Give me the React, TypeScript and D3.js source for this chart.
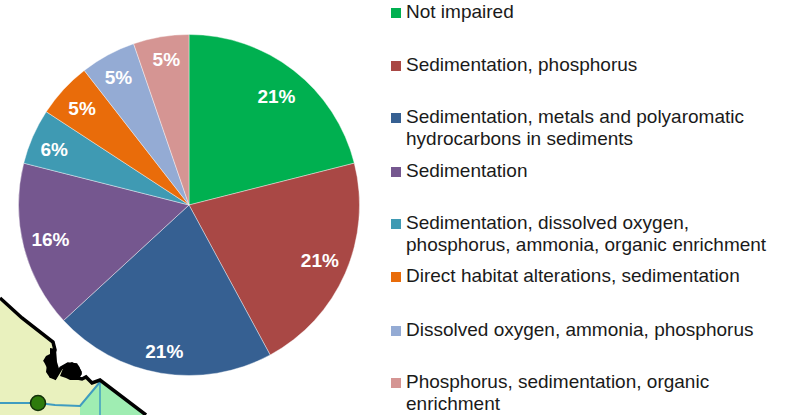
import React, { useEffect, useRef } from "react";
import * as d3 from "d3";

const categories = [
  "Not impaired",
  "Sedimentation, phosphorus",
  "Sedimentation, metals and polyaromatic|hydrocarbons in sediments",
  "Sedimentation",
  "Sedimentation, dissolved oxygen,|phosphorus, ammonia, organic enrichment",
  "Direct habitat alterations, sedimentation",
  "Dissolved oxygen, ammonia, phosphorus",
  "Phosphorus, sedimentation, organic|enrichment",
];
const counts = [4, 4, 4, 3, 1, 1, 1, 1];
const shareLabels = ["21%", "21%", "21%", "16%", "6%", "5%", "5%", "5%"];
const colors = ["#00B050", "#A94845", "#366092", "#75578F", "#3F9AB3", "#E96C0A", "#94ABD4", "#D59593"];
// first-line baseline of each legend entry
const legendBaselines = [18, 71, 123, 177, 229, 282, 336, 388];
// hand placed offsets, the labels don't sit on one radius in the original
const labelNudges: [number, number][] = [[-1, 5], [-1, -3], [-1, 4], [1, -1], [-3, 2], [-1, 1], [-2, -1], [1, -4]];

// bit of map showing behind the chart
const mapBorder: [number, number][] = [
  [0, 298], [22, 318], [53, 342], [55, 350], [52, 358], [46, 362], [49, 368], [51, 376], [55, 378], [61, 368],
  [68, 364], [76, 365], [80, 372], [77, 378], [82, 379], [86, 377], [92, 383], [100, 380], [146, 415],
];
const mapLand: [number, number][] = [...mapBorder, [0, 415]];
const mapGreen: [number, number][] = [[100, 381], [80, 405], [80, 415], [146, 415]];
const mapBlobs: [number, number][][] = [
  [[50, 348], [56, 349], [57, 362], [60, 372], [56, 379], [50, 378], [46, 372], [47, 364], [43, 361], [46, 356], [50, 354]],
  [[64, 366], [72, 362], [79, 366], [82, 374], [78, 380], [70, 380], [66, 378], [60, 376]],
];
const mapRiver: [number, number][] = [[0, 403], [38, 403], [55, 405], [80, 406], [100, 382]];
const mapRiver2: [number, number][] = [[100, 382], [100, 415]];

const App: React.FC = () => {
  const svgRef = useRef<SVGSVGElement | null>(null);

  useEffect(() => {
    if (!svgRef.current) return;
    const svg = d3.select(svgRef.current);
    svg.selectAll("*").remove();

    const line = d3.line();
    const map = svg.append("g");
    map.append("path").attr("d", line(mapLand)!).attr("fill", "#E9F1BE");
    map.append("path").attr("d", line(mapGreen)!).attr("fill", "#9FEDB2");
    map.append("path").attr("d", line(mapRiver)!).attr("fill", "none").attr("stroke", "#3F9CC0").attr("stroke-width", 2);
    map.append("path").attr("d", line(mapRiver2)!).attr("fill", "none").attr("stroke", "#3F9CC0").attr("stroke-width", 1.5);
    map.append("path").attr("d", line(mapBorder)!).attr("fill", "none").attr("stroke", "#000").attr("stroke-width", 3.5);
    map.selectAll("path.blob").data(mapBlobs).join("path").attr("class", "blob").attr("d", d => line(d)! + "Z").attr("fill", "#000");
    map.append("circle").attr("cx", 38).attr("cy", 403).attr("r", 7.5)
      .attr("fill", "#2E7B0C").attr("stroke", "#12300a").attr("stroke-width", 1.5);

    const radius = 170.5;
    const pie = d3.pie<number>().sort(null).value(d => d);
    const arc = d3.arc<d3.PieArcDatum<number>>().innerRadius(0).outerRadius(radius);
    const labelArc = d3.arc<d3.PieArcDatum<number>>().innerRadius(144).outerRadius(144);

    const chart = svg.append("g").attr("transform", "translate(189,205)");
    chart.selectAll("path")
      .data(pie(counts))
      .join("path")
      .attr("d", d => arc(d)!)
      .attr("fill", (_, i) => colors[i])
      .attr("stroke", "#fff")
      .attr("stroke-width", 0.4);
    chart.selectAll("text")
      .data(pie(counts))
      .join("text")
      .attr("transform", (d, i) => {
        const [x, y] = labelArc.centroid(d);
        return `translate(${x + labelNudges[i][0]},${y + labelNudges[i][1]})`;
      })
      .attr("text-anchor", "middle")
      .attr("dy", "0.36em")
      .attr("font-family", "Liberation Sans")
      .attr("font-weight", "bold")
      .attr("font-size", 19)
      .attr("fill", "#fff")
      .text((_, i) => shareLabels[i]);

    const legend = svg.append("g").attr("font-family", "Liberation Sans").attr("font-size", 19).attr("fill", "#1a1a1a");
    categories.forEach((c, i) => {
      const y = legendBaselines[i];
      legend.append("rect").attr("x", 391).attr("y", y - 10).attr("width", 10).attr("height", 10).attr("fill", colors[i]);
      c.split("|").forEach((t, j) => {
        legend.append("text").attr("x", 406).attr("y", y + j * 22).text(t);
      });
    });
  }, []);

  return <svg ref={svgRef} width={787} height={415} style={{ position: "absolute", left: 0, top: 0, background: "#fff" }} />;
};

export default App;
